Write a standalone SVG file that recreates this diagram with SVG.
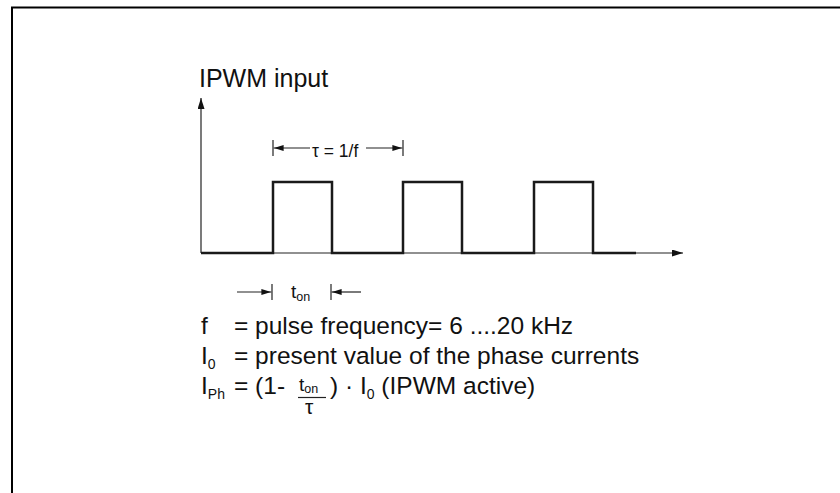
<svg xmlns="http://www.w3.org/2000/svg" width="840" height="493" viewBox="0 0 840 493">
<style>
text{font-family:"Liberation Sans",Arial,sans-serif;fill:#111}
.t{font-size:24.5px}
.s{font-size:14px}
.d{font-size:17.5px}
.thin{stroke:#222;stroke-width:1.2;fill:none}
.thick{stroke:#1a1a1a;stroke-width:2.5;fill:none}
</style>
<defs>
<marker id="ah" viewBox="0 0 10 6" refX="10" refY="3" markerWidth="10" markerHeight="6" markerUnits="userSpaceOnUse" orient="auto"><path d="M0,0 L10,3 L0,6 z" fill="#111"/></marker>
<marker id="ax" viewBox="0 0 11 7" refX="11" refY="3.5" markerWidth="11" markerHeight="7" markerUnits="userSpaceOnUse" orient="auto"><path d="M0,0 L11,3.5 L0,7 z" fill="#111"/></marker>
</defs>
<rect width="840" height="493" fill="#fff"/>
<g id="frame"><path d="M12,493 V7.5 H840" fill="none" stroke="#000" stroke-width="2"/></g>
<g id="axes">
<line class="thin" x1="201" y1="253" x2="201" y2="98" marker-end="url(#ax)"/>
<line class="thin" x1="201" y1="253" x2="683" y2="253" marker-end="url(#ax)"/>
</g>
<g id="signal"><path class="thick" d="M201,253 H273 V182 H332 V253 H403 V182 H462 V253 H534 V182 H593 V253 H636"/></g>
<g id="connectors">
<line class="thin" x1="273" y1="140" x2="273" y2="156"/>
<line class="thin" x1="403" y1="140" x2="403" y2="156"/>
<line class="thin" x1="310" y1="148" x2="273.6" y2="148" marker-end="url(#ah)"/>
<line class="thin" x1="366" y1="148" x2="402.4" y2="148" marker-end="url(#ah)"/>
<line class="thin" x1="272" y1="284" x2="272" y2="300"/>
<line class="thin" x1="331" y1="284" x2="331" y2="300"/>
<line class="thin" x1="237" y1="292" x2="271.4" y2="292" marker-end="url(#ah)"/>
<line class="thin" x1="361" y1="292" x2="331.6" y2="292" marker-end="url(#ah)"/>
<line class="thin" x1="298" y1="397.5" x2="326" y2="397.5"/>
</g>
<g id="labels">
<text x="199" y="87" font-size="25px">IPWM input</text>
<text class="d" x="312" y="156.5">τ = 1/f</text>
<text x="291" y="298" font-size="19px">t<tspan font-size="12.5px" dy="3">on</tspan></text>
<text class="t" x="201" y="334">f</text>
<text class="t" x="234" y="334">= pulse frequency= 6 ....20 kHz</text>
<text class="t" x="201" y="364">I<tspan class="s" dy="5">0</tspan></text>
<text class="t" x="234" y="364">= present value of the phase currents</text>
<text class="t" x="201" y="394">I<tspan class="s" dy="5">Ph</tspan></text>
<text class="t" x="234" y="394">= (1- </text>
<text x="299" y="391" font-size="19px">t<tspan font-size="12.5px" dy="2">on</tspan></text>
<text x="305" y="414" font-size="21px">τ</text>
<text class="t" x="330" y="394">) · I<tspan class="s" dy="5">0</tspan><tspan dy="-5"> (IPWM active)</tspan></text>
</g>
</svg>
